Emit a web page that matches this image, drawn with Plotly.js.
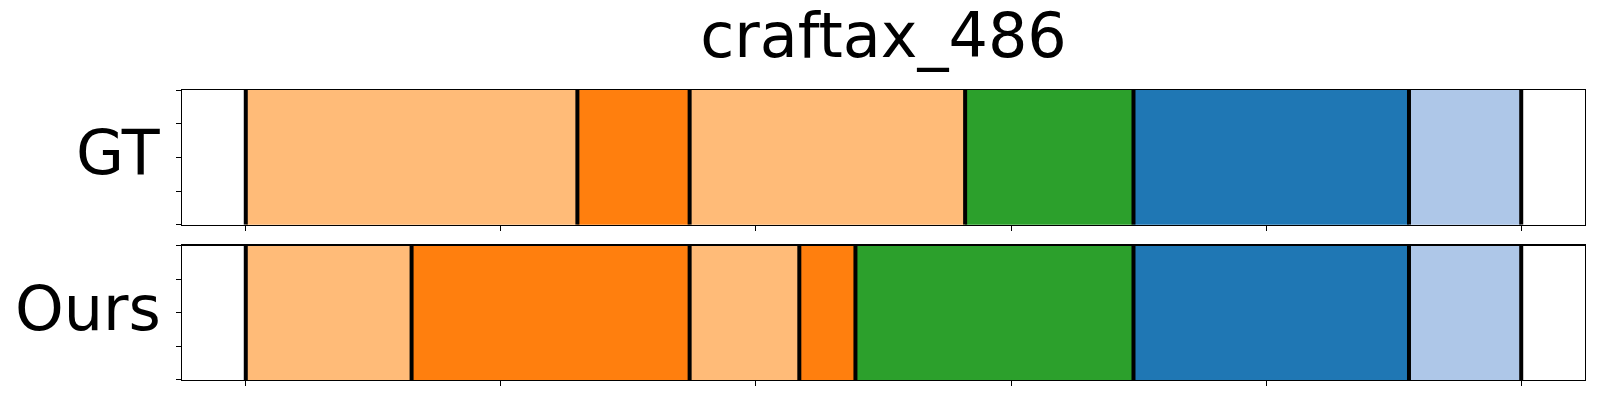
<!DOCTYPE html>
<html>
<head>
<meta charset="utf-8">
<script src="https://cdn.plot.ly/plotly-3.0.1.min.js"></script>
<style>html,body{margin:0;padding:0;background:#fff;}#chart{width:1600px;height:400px;}</style>
</head>
<body>
<div id="chart"></div>
<script>
// ---- data ----
const chartTitle = "craftax_486";
const rowLabels = ["GT", "Ours"];
const gtBounds = [0, 130, 174, 282, 348, 456, 500];
const gtColors = ["#ffbb78", "#ff7f0e", "#ffbb78", "#2ca02c", "#1f77b4", "#aec7e8"];
const oursBounds = [0, 65, 174, 217, 239, 348, 456, 500];
const oursColors = ["#ffbb78", "#ff7f0e", "#ffbb78", "#ff7f0e", "#2ca02c", "#1f77b4", "#aec7e8"];
const xTicks = [0, 100, 200, 300, 400, 500];

// ---- build ----
function segTrace(bounds, colors, xa, ya) {
  const base = [], len = [], y = [];
  for (let i = 0; i < bounds.length - 1; i++) {
    base.push(bounds[i]);
    len.push(bounds[i + 1] - bounds[i]);
    y.push(0.5);
  }
  return {
    type: "bar", orientation: "h", base: base, x: len, y: y, width: 1,
    marker: {color: colors, line: {width: 0}},
    xaxis: xa, yaxis: ya, hoverinfo: "skip", showlegend: false
  };
}
function lineTrace(bounds, xa, ya) {
  const x = [], y = [];
  bounds.forEach(b => { x.push(b, b, null); y.push(0, 1, null); });
  return {
    type: "scatter", mode: "lines", x: x, y: y,
    line: {color: "#000", width: 4},
    xaxis: xa, yaxis: ya, hoverinfo: "skip", showlegend: false, cliponaxis: false
  };
}
const data = [
  segTrace(gtBounds, gtColors, "x", "y"),
  lineTrace(gtBounds, "x", "y"),
  segTrace(oursBounds, oursColors, "x2", "y2"),
  lineTrace(oursBounds, "x2", "y2")
];

const font = "DejaVu Sans, Liberation Sans, sans-serif";
function xax(anchor) {
  return {
    anchor: anchor, range: [-25, 525], tickvals: xTicks, showticklabels: false,
    ticks: "outside", ticklen: 5, tickwidth: 1, tickcolor: "#000",
    showline: true, mirror: true, linecolor: "#000", linewidth: 1.3,
    showgrid: false, zeroline: false, fixedrange: true
  };
}
function yax(anchor, domain) {
  return {
    anchor: anchor, domain: domain, range: [0, 1], tickvals: [0, 0.25, 0.5, 0.75, 1],
    showticklabels: false, ticks: "outside", ticklen: 5, tickwidth: 1, tickcolor: "#000",
    showline: true, mirror: true, linecolor: "#000", linewidth: 1.3,
    showgrid: false, zeroline: false, fixedrange: true
  };
}
const topDom = [0.535, 1];
const botDom = [0, 0.4636];
const layout = {
  width: 1600, height: 400,
  margin: {l: 181.7, r: 15, t: 90.3, b: 20, pad: 0},
  paper_bgcolor: "#fff", plot_bgcolor: "#fff",
  barmode: "overlay", bargap: 0,
  font: {family: font, color: "#000"},
  title: {text: chartTitle, font: {family: font, size: 62, color: "#000"},
          x: 0.5, xref: "paper", xanchor: "center", y: 0.965, yref: "container", yanchor: "top"},
  xaxis: xax("y"), yaxis: yax("x", topDom),
  xaxis2: xax("y2"), yaxis2: yax("x2", botDom),
  annotations: [
    {text: rowLabels[0], xref: "paper", yref: "paper", x: 0, y: (topDom[0] + topDom[1]) / 2,
     xanchor: "right", yanchor: "middle", xshift: -19, yshift: 5, showarrow: false,
     font: {family: font, size: 62, color: "#000"}},
    {text: rowLabels[1], xref: "paper", yref: "paper", x: 0, y: (botDom[0] + botDom[1]) / 2,
     xanchor: "right", yanchor: "middle", xshift: -19, yshift: 4, showarrow: false,
     font: {family: font, size: 62, color: "#000"}}
  ]
};
Plotly.newPlot("chart", data, layout, {displayModeBar: false, staticPlot: true});
</script>
</body>
</html>
